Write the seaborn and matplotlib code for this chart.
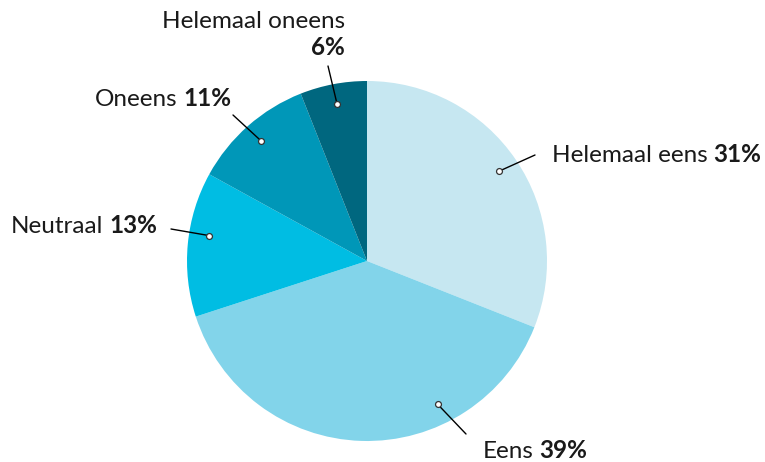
import matplotlib
matplotlib.use("Agg")
import matplotlib.pyplot as plt
import numpy as np
import seaborn as sns

# data
categories = ["Helemaal eens", "Eens", "Neutraal", "Oneens", "Helemaal oneens"]
values = [31, 39, 13, 11, 6]
pct_labels = ["31%", "39%", "13%", "11%", "6%"]
colors = ["#c6e7f1", "#82d4ea", "#00bde3", "#0097b8", "#00677f"]

sns.set_theme(style="white")
plt.rcParams["font.family"] = ["Lato", "DejaVu Sans"]

W, H = 765, 462
fig = plt.figure(figsize=(W / 100, H / 100), dpi=100)
ax = fig.add_axes([0, 0, 1, 1])

cx, cy, R = 367, H - 261, 180
wedges, _ = ax.pie(values, colors=colors, startangle=90, counterclock=False,
                   center=(cx, cy), radius=R, frame=True,
                   wedgeprops=dict(linewidth=0))
ax.set_xlim(0, W)
ax.set_ylim(0, H)
ax.set_aspect("auto")
ax.axis("off")

# where the leader line touches the slice (fraction along the slice, clockwise)
anchor_frac = [0.5, 0.3, 0.58, 0.5, 0.5]
# leader line end, text x, text baseline, alignment (pixel coords, y from top)
layout = [
    ((535, 155), 552, 162, "left"),
    ((466, 434), 483, 458, "left"),
    ((171, 229), 157, 233, "right"),
    ((233, 115), 231, 106, "right"),
    ((328, 66), 345, 55, "top"),
]

fs = 17.5
for w, f, lab, pct, (end, tx, ty, al) in zip(wedges, anchor_frac, categories, pct_labels, layout):
    ang = np.deg2rad(w.theta2 - f * (w.theta2 - w.theta1))
    ax_ = cx + 160 * np.cos(ang)
    ay_ = cy + 160 * np.sin(ang)
    ax.plot([ax_, end[0]], [ay_, H - end[1]], color="black", lw=1, zorder=3)
    ax.scatter([ax_], [ay_], s=18, facecolor="white", edgecolor="#333333", linewidth=0.9, zorder=4)
    if al == "left":
        t1 = ax.text(tx, H - ty, lab, fontsize=fs, ha="left", va="baseline", color="#1a1a1a")
        ax.annotate(pct, xy=(1, H - ty), xycoords=(t1, "data"), xytext=(4, 0),
                    textcoords="offset points", fontsize=fs, fontweight="bold",
                    ha="left", va="baseline", color="#1a1a1a")
    elif al == "right":
        t1 = ax.text(tx, H - ty, pct, fontsize=fs, fontweight="bold", ha="right", va="baseline", color="#1a1a1a")
        ax.annotate(lab, xy=(0, H - ty), xycoords=(t1, "data"), xytext=(-4, 0),
                    textcoords="offset points", fontsize=fs,
                    ha="right", va="baseline", color="#1a1a1a")
    else:
        ax.text(tx, H - 28, lab, fontsize=fs, ha="right", va="baseline", color="#1a1a1a")
        ax.text(tx, H - ty, pct, fontsize=fs, fontweight="bold", ha="right", va="baseline", color="#1a1a1a")

fig.savefig("out.png", dpi=100)
